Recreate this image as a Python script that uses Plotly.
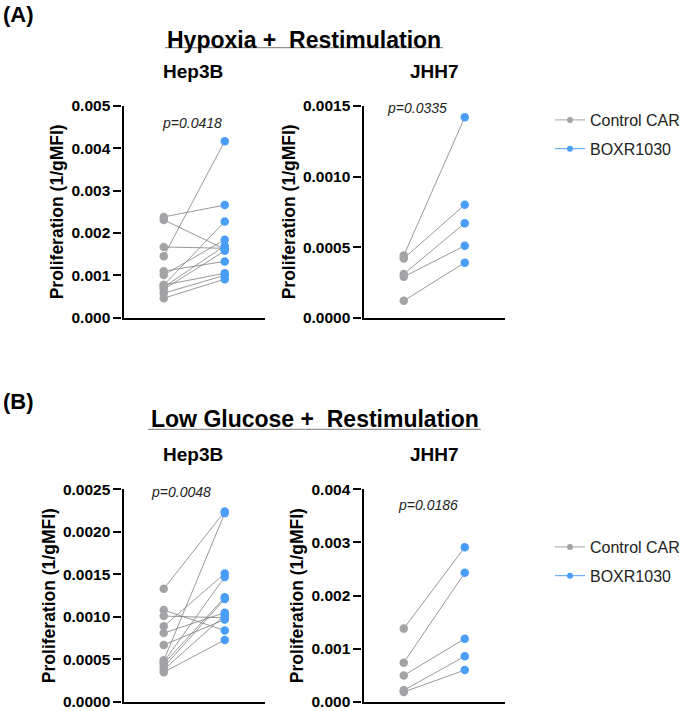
import plotly.graph_objects as go

W, H = 691, 711

groups = ["Control CAR", "BOXR1030"]

# (A) Hypoxia + Restimulation
hyp_hep3b_control = [0.00238, 0.00231, 0.00167, 0.00145, 0.00101, 0.00110, 0.00077, 0.00072, 0.00077, 0.00058, 0.00046, 0.00067]
hyp_hep3b_boxr    = [0.00266, 0.00162, 0.00164, 0.00417, 0.00184, 0.00133, 0.00227, 0.00170, 0.00105, 0.00100, 0.00091, 0.00158]
hyp_jhh7_control  = [0.00044, 0.00042, 0.00031, 0.00029, 0.00012]
hyp_jhh7_boxr     = [0.00142, 0.00080, 0.00067, 0.00051, 0.00039]

# (B) Low Glucose + Restimulation
glc_hep3b_control = [0.00133, 0.00108, 0.00101, 0.00089, 0.00081, 0.00067, 0.00049, 0.00047, 0.00045, 0.00041, 0.00038, 0.00035]
glc_hep3b_boxr    = [0.00224, 0.00084, 0.00099, 0.00151, 0.00105, 0.00097, 0.00222, 0.00147, 0.00123, 0.00121, 0.00102, 0.00073]
glc_jhh7_control  = [0.00138, 0.00074, 0.00050, 0.00022, 0.00019]
glc_jhh7_boxr     = [0.00291, 0.00243, 0.00119, 0.00086, 0.00060]

p_values = ["p=0.0418", "p=0.0335", "p=0.0048", "p=0.0186"]
cell_lines = ["Hep3B", "JHH7"]
headers = ["Hypoxia +  Restimulation", "Low Glucose +  Restimulation"]
panel_tags = ["(A)", "(B)"]

GRAY = "#a3a3a6"
BLUE = "#4a9ef7"
LINE = "#7f7f7f"
FONT = "Liberation Sans"

panels = [
    dict(c=hyp_hep3b_control, b=hyp_hep3b_boxr, ax="", rng=[0, 0.005], dtick=0.001, fmt=".3f"),
    dict(c=hyp_jhh7_control, b=hyp_jhh7_boxr, ax="2", rng=[0, 0.0015], dtick=0.0005, fmt=".4f"),
    dict(c=glc_hep3b_control, b=glc_hep3b_boxr, ax="3", rng=[0, 0.0025], dtick=0.0005, fmt=".4f"),
    dict(c=glc_jhh7_control, b=glc_jhh7_boxr, ax="4", rng=[0, 0.004], dtick=0.001, fmt=".3f"),
]

def px_x(v):
    return v / W

def px_y(v):
    return 1 - v / H

xdoms = [[px_x(123.5), px_x(265)], [px_x(363.5), px_x(505)]]
ydoms = [[px_y(317.7), px_y(106)], [px_y(702), px_y(489.3)]]

fig = go.Figure()

for i, p in enumerate(panels):
    xs, ys = [], []
    for cv, bv in zip(p["c"], p["b"]):
        xs += [0, 1, None]
        ys += [cv, bv, None]
    xa, ya = "x" + p["ax"], "y" + p["ax"]
    fig.add_trace(go.Scatter(x=xs, y=ys, mode="lines", line=dict(color=LINE, width=0.8),
                             xaxis=xa, yaxis=ya, showlegend=False, hoverinfo="skip"))
    fig.add_trace(go.Scatter(x=[0] * len(p["c"]), y=p["c"], mode="markers", name=groups[0],
                             marker=dict(color=GRAY, size=8.5), xaxis=xa, yaxis=ya, showlegend=False))
    fig.add_trace(go.Scatter(x=[1] * len(p["b"]), y=p["b"], mode="markers", name=groups[1],
                             marker=dict(color=BLUE, size=8.5), xaxis=xa, yaxis=ya, showlegend=False))

# legend entries for each row
for li, leg in enumerate(["legend", "legend2"]):
    for g, col in zip(groups, [GRAY, BLUE]):
        fig.add_trace(go.Scatter(x=[None], y=[None], mode="lines+markers", name=g,
                                 line=dict(color=col, width=1), marker=dict(color=col, size=6),
                                 legend=leg, legendgroup=leg + g, showlegend=True,
                                 xaxis="x" + ("" if li == 0 else "3"), yaxis="y" + ("" if li == 0 else "3")))

layout = dict(
    width=W, height=H,
    margin=dict(l=0, r=0, t=0, b=0, pad=0, autoexpand=False),
    paper_bgcolor="white", plot_bgcolor="white",
    font=dict(family=FONT, color="black"),
    showlegend=True,
)

for i, p in enumerate(panels):
    col = i % 2
    row = i // 2
    xk = "xaxis" + p["ax"]
    yk = "yaxis" + p["ax"]
    layout[xk] = dict(domain=xdoms[col], range=[-0.66, 1.66], showline=True, linecolor="black",
                      linewidth=2.2, showgrid=False, zeroline=False, showticklabels=False, ticks="",
                      anchor="y" + p["ax"], fixedrange=True, automargin=False)
    layout[yk] = dict(domain=ydoms[row], range=p["rng"], dtick=p["dtick"], tick0=0,
                      tickformat=p["fmt"], showline=True, linecolor="black", linewidth=2.2,
                      ticks="outside", ticklen=8, tickwidth=2, tickcolor="black",
                      showgrid=False, zeroline=False, anchor="x" + p["ax"], automargin=False,
                      tickfont=dict(family=FONT, size=15.5, color="black", weight="bold"),
                      title=dict(text="Proliferation (1/gMFI)", standoff=3,
                                 font=dict(family=FONT, size=17.5, color="black", weight="bold")),
                      fixedrange=True)

leg_common = dict(xanchor="left", yanchor="top", bgcolor="rgba(0,0,0,0)", borderwidth=0,
                  font=dict(family=FONT, size=16, color="#222222"), tracegroupgap=5,
                  itemclick=False, itemdoubleclick=False)
layout["legend"] = dict(x=px_x(550), y=px_y(103), **leg_common)
layout["legend2"] = dict(x=px_x(550), y=px_y(530), **leg_common)

annotations = []
shapes = []
# Panel tags & headers
tag_y = [14, 401]
head = [dict(x=304, y=40, x0=165, x1=443, uy=47.7), dict(x=314.5, y=418.5, x0=148, x1=481, uy=429.3)]
sub_y = [71.5, 454]
sub_x = [193, 434]
for r in range(2):
    annotations.append(dict(text="<b>" + panel_tags[r] + "</b>", x=px_x(1), y=px_y(tag_y[r]), xref="paper", yref="paper",
                            xanchor="left", yanchor="middle", showarrow=False,
                            font=dict(family=FONT, size=22, color="black")))
    annotations.append(dict(text="<b>" + headers[r] + "</b>", x=px_x(head[r]["x"]), y=px_y(head[r]["y"]),
                            xref="paper", yref="paper", xanchor="center", yanchor="middle", showarrow=False,
                            font=dict(family=FONT, size=23, color="black")))
    shapes.append(dict(type="line", xref="paper", yref="paper", x0=px_x(head[r]["x0"]), x1=px_x(head[r]["x1"]),
                       y0=px_y(head[r]["uy"]), y1=px_y(head[r]["uy"]), line=dict(color="#777777", width=1)))
    for c in range(2):
        annotations.append(dict(text="<b>" + cell_lines[c] + "</b>", x=px_x(sub_x[c]), y=px_y(sub_y[r]),
                                xref="paper", yref="paper", xanchor="center", yanchor="middle", showarrow=False,
                                font=dict(family=FONT, size=19, color="black")))

# p-values
p_pos = [(192, 123), (417, 108), (181, 492), (428, 505)]
for (px, py), t in zip(p_pos, p_values):
    annotations.append(dict(text="<i>" + t + "</i>", x=px_x(px), y=px_y(py), xref="paper", yref="paper",
                            xanchor="center", yanchor="middle", showarrow=False,
                            font=dict(family=FONT, size=14, color="#222222")))

layout["annotations"] = annotations
layout["shapes"] = shapes
fig.update_layout(**layout)
fig.write_html("out.html", config={"displayModeBar": False},
               post_script="document.body.style.margin='0';document.body.style.padding='0';")
